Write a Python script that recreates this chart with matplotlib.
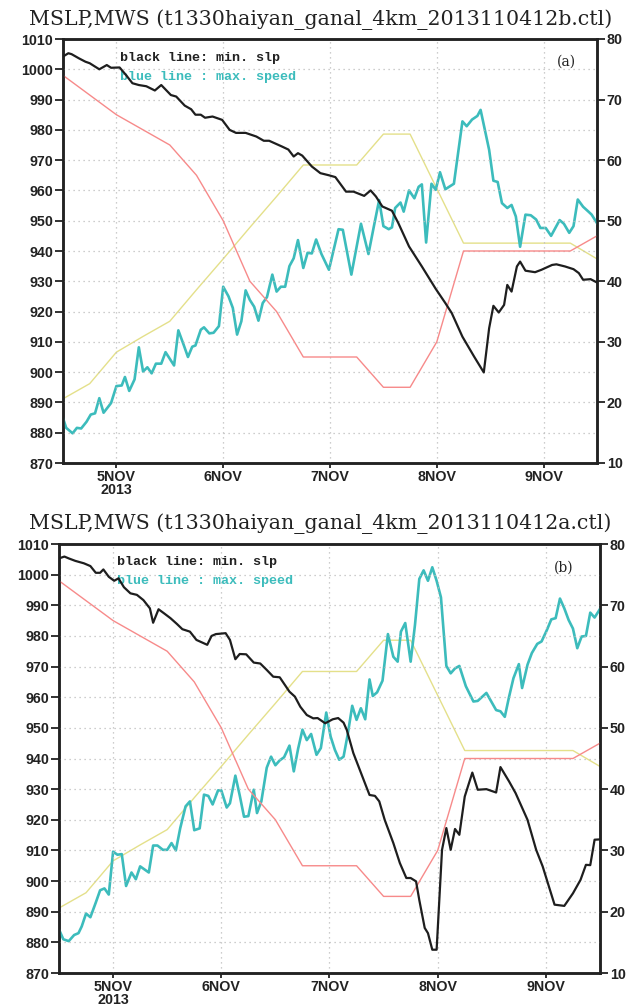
import matplotlib
matplotlib.use("Agg")
import matplotlib.pyplot as plt

# ---------------- data ----------------
# best track (same for both panels)
bt_t = [4.5, 4.75, 5.0, 5.25, 5.5, 5.75, 6.0, 6.25, 6.5, 6.75, 7.0, 7.25, 7.5, 7.75,
        8.0, 8.25, 8.5, 8.75, 9.0, 9.25, 9.5]
bt_slp = [998, 991.5, 985, 980, 975, 965, 950, 930, 920, 905, 905, 905, 895, 895,
          910, 940, 940, 940, 940, 940, 945]
bt_wind = [20.6, 23.1, 28.3, 30.9, 33.4, 38.6, 43.7, 48.9, 54.0, 59.2, 59.2, 59.2, 64.3, 64.3,
           55.3, 46.3, 46.3, 46.3, 46.3, 46.3, 43.7]

# panel (a) model min SLP
a_slp_t = [4.50, 4.55, 4.58, 4.65, 4.71, 4.75, 4.84, 4.91, 4.95, 5.03, 5.09, 5.15, 5.21, 5.28,
           5.36, 5.42, 5.51, 5.56, 5.64, 5.70, 5.74, 5.79, 5.83, 5.90, 5.99, 6.06, 6.12, 6.21,
           6.31, 6.38, 6.43, 6.55, 6.61, 6.66, 6.70, 6.74, 6.83, 6.91, 6.99, 7.05, 7.15, 7.22,
           7.32, 7.38, 7.43, 7.49, 7.58, 7.64, 7.74, 7.86, 7.99, 8.08, 8.14, 8.24, 8.35, 8.44,
           8.49, 8.53, 8.58, 8.63, 8.66, 8.70, 8.75, 8.78, 8.83, 8.92, 8.98, 9.08, 9.12, 9.20,
           9.28, 9.33, 9.37, 9.44, 9.50]
a_slp = [1004.2, 1005.3, 1005.0, 1003.6, 1002.5, 1002.0, 1000.0, 1001.4, 1000.5, 1000.6, 998.1,
         995.4, 994.8, 994.4, 993.0, 994.8, 991.5, 991.0, 988.0, 986.8, 985.0, 985.0, 984.0,
         984.4, 983.3, 980.0, 979.0, 979.0, 977.8, 976.4, 976.4, 974.5, 973.5, 971.2, 972.3,
         971.5, 967.9, 965.7, 965.0, 964.4, 959.6, 959.6, 958.2, 960.0, 958.0, 954.7, 953.3,
         949.2, 941.5, 934.9, 927.5, 922.8, 919.5, 911.7, 905.1, 899.9, 914.5, 921.9, 919.7,
         922.2, 928.8, 926.6, 934.9, 936.5, 933.5, 933.0, 933.8, 935.4, 935.6, 934.9, 934.0,
         932.7, 930.5, 930.7, 929.6]

# panel (a) model max wind speed
a_ws_t = [4.50, 4.53, 4.59, 4.63, 4.67, 4.72, 4.76, 4.80, 4.84, 4.88, 4.95, 5.00, 5.05, 5.08,
          5.12, 5.17, 5.21, 5.25, 5.29, 5.33, 5.37, 5.42, 5.46, 5.54, 5.58, 5.63, 5.67, 5.71,
          5.74, 5.79, 5.82, 5.87, 5.91, 5.96, 6.00, 6.05, 6.09, 6.13, 6.17, 6.21, 6.25, 6.29,
          6.33, 6.37, 6.41, 6.46, 6.50, 6.54, 6.58, 6.62, 6.66, 6.70, 6.75, 6.79, 6.83, 6.87,
          6.92, 6.99, 7.08, 7.12, 7.20, 7.29, 7.36, 7.41, 7.46, 7.50, 7.55, 7.58, 7.61, 7.66,
          7.69, 7.74, 7.79, 7.83, 7.86, 7.90, 7.95, 7.99, 8.03, 8.08, 8.16, 8.24, 8.28, 8.33,
          8.38, 8.41, 8.49, 8.53, 8.57, 8.61, 8.66, 8.70, 8.74, 8.78, 8.83, 8.88, 8.93, 8.97,
          9.02, 9.07, 9.15, 9.19, 9.24, 9.28, 9.32, 9.37, 9.42, 9.45, 9.50]
a_ws = [17.4, 15.8, 14.9, 15.8, 15.7, 16.8, 18.0, 18.2, 20.7, 18.3, 19.9, 22.7, 22.8, 24.2,
        21.9, 23.8, 29.1, 25.1, 25.8, 24.8, 26.4, 26.4, 28.3, 26.1, 31.9, 29.5, 27.5, 29.2,
        29.4, 32.0, 32.4, 31.4, 31.5, 32.6, 39.1, 37.5, 35.6, 31.2, 33.4, 38.5, 36.9, 35.8,
        33.5, 36.4, 37.4, 41.1, 38.3, 39.1, 39.1, 42.5, 43.8, 46.8, 42.2, 44.7, 44.6, 46.9,
        44.5, 41.9, 48.6, 48.5, 41.1, 49.5, 44.5, 49.0, 53.4, 49.1, 48.6, 48.9, 52.1, 53.0,
        51.5, 55.0, 53.7, 55.6, 56.0, 46.4, 56.1, 55.1, 58.0, 55.2, 56.1, 66.4, 65.6, 66.7,
        67.3, 68.3, 61.7, 56.6, 56.4, 52.9, 52.1, 52.6, 50.7, 45.7, 51.0, 50.9, 50.2, 48.8,
        48.8, 47.5, 50.1, 49.5, 48.0, 49.1, 53.5, 52.3, 51.5, 51.0, 49.6]

# panel (b) model min SLP
b_slp_t = [4.50, 4.55, 4.59, 4.65, 4.73, 4.79, 4.84, 4.88, 4.91, 4.96, 5.01, 5.05, 5.10, 5.16,
           5.22, 5.28, 5.34, 5.37, 5.42, 5.47, 5.53, 5.59, 5.64, 5.71, 5.77, 5.87, 5.91, 5.95,
           6.04, 6.08, 6.13, 6.17, 6.23, 6.30, 6.36, 6.42, 6.48, 6.54, 6.63, 6.68, 6.73, 6.79,
           6.85, 6.89, 6.96, 7.03, 7.08, 7.13, 7.16, 7.22, 7.28, 7.34, 7.37, 7.42, 7.46, 7.51,
           7.59, 7.65, 7.71, 7.75, 7.80, 7.83, 7.88, 7.91, 7.95, 7.99, 8.04, 8.08, 8.12, 8.16,
           8.20, 8.25, 8.32, 8.37, 8.45, 8.54, 8.58, 8.66, 8.72, 8.83, 8.91, 8.97, 9.08, 9.17,
           9.25, 9.32, 9.37, 9.41, 9.45, 9.50]
b_slp = [1005.3, 1005.9, 1005.3, 1004.5, 1003.7, 1002.8, 1000.6, 1000.6, 1001.7, 999.3, 998.0,
         998.8, 995.9, 993.9, 993.4, 991.7, 989.0, 984.3, 988.7, 987.4, 985.8, 983.9, 982.2,
         981.4, 978.7, 977.1, 980.0, 980.6, 980.9, 978.7, 972.4, 974.1, 974.0, 971.3, 971.0,
         968.9, 966.7, 966.5, 961.8, 960.2, 956.9, 954.2, 953.1, 953.2, 951.5, 952.8, 953.2,
         951.7, 949.3, 941.8, 936.3, 930.8, 928.1, 927.8, 926.0, 920.0, 912.4, 905.9, 901.0,
         901.0, 899.9, 893.8, 884.7, 883.0, 877.6, 877.6, 910.2, 917.3, 910.2, 917.0, 915.1,
         927.6, 935.4, 929.8, 930.0, 928.9, 937.2, 932.5, 928.7, 920.0, 910.2, 904.8, 892.3,
         891.9, 896.0, 900.4, 905.3, 905.2, 913.5, 913.6]

# panel (b) model max wind speed
b_ws_t = [4.50, 4.54, 4.59, 4.64, 4.68, 4.71, 4.75, 4.79, 4.84, 4.88, 4.92, 4.96, 5.00, 5.04,
          5.08, 5.12, 5.17, 5.21, 5.25, 5.33, 5.37, 5.41, 5.46, 5.50, 5.54, 5.58, 5.62, 5.67,
          5.71, 5.75, 5.80, 5.84, 5.88, 5.92, 5.97, 6.00, 6.05, 6.08, 6.13, 6.17, 6.21, 6.25,
          6.30, 6.33, 6.37, 6.42, 6.46, 6.50, 6.54, 6.58, 6.63, 6.67, 6.71, 6.75, 6.79, 6.83,
          6.88, 6.92, 6.97, 7.01, 7.05, 7.09, 7.13, 7.17, 7.21, 7.25, 7.29, 7.33, 7.37, 7.40,
          7.44, 7.49, 7.54, 7.59, 7.63, 7.66, 7.70, 7.75, 7.79, 7.83, 7.87, 7.91, 7.95, 7.99,
          8.03, 8.08, 8.12, 8.16, 8.20, 8.26, 8.33, 8.37, 8.45, 8.54, 8.58, 8.62, 8.66, 8.70,
          8.75, 8.78, 8.83, 8.87, 8.92, 8.96, 9.01, 9.05, 9.09, 9.13, 9.17, 9.21, 9.25, 9.29,
          9.33, 9.37, 9.41, 9.45, 9.50]
b_ws = [17.1, 15.5, 15.2, 16.2, 16.5, 17.6, 19.7, 19.1, 21.5, 23.5, 23.8, 22.8, 29.8, 29.3,
        29.4, 24.2, 26.4, 25.3, 27.4, 26.4, 30.8, 30.8, 30.1, 30.1, 31.2, 30.0, 33.6, 37.2,
        38.0, 33.3, 33.6, 39.1, 38.9, 37.5, 39.8, 39.8, 37.0, 37.7, 42.2, 39.0, 35.5, 35.6,
        39.9, 36.1, 38.0, 43.5, 45.3, 43.9, 44.7, 45.2, 47.1, 42.9, 46.6, 49.7, 48.0, 49.0,
        45.6, 46.7, 52.5, 48.6, 46.4, 44.8, 45.3, 49.1, 53.6, 51.3, 53.2, 51.4, 57.9, 55.2,
        55.8, 57.7, 65.3, 61.6, 60.8, 65.7, 67.1, 60.8, 66.8, 74.3, 75.7, 74.0, 76.2, 74.0,
        71.3, 60.1, 58.9, 59.7, 60.1, 56.8, 54.3, 54.4, 55.7, 52.9, 52.7, 51.8, 55.1, 58.1,
        60.4, 56.5, 60.3, 62.2, 63.7, 64.1, 66.0, 67.7, 67.9, 71.1, 69.5, 67.6, 66.2, 63.0,
        64.9, 65.0, 68.8, 68.0, 69.4]

x_ticks = [5, 6, 7, 8, 9]
x_labels = ["5NOV\n2013", "6NOV", "7NOV", "8NOV", "9NOV"]
slp_ticks = list(range(870, 1011, 10))
ws_ticks = list(range(10, 81, 10))

titles = ["MSLP,MWS (t1330haiyan_ganal_4km_2013110412b.ctl)",
          "MSLP,MWS (t1330haiyan_ganal_4km_2013110412a.ctl)"]
tags = ["(a)", "(b)"]
legend_black = "black line: min. slp"
legend_blue = "blue line : max. speed"

# ---------------- styling ----------------
W, H = 641, 1007
fig = plt.figure(figsize=(W / 100, H / 100), dpi=100)
fig.patch.set_facecolor("white")

BLACK = "#1e1e1e"
CYAN = "#3cbcbc"
RED = "#f78a8a"
YELLOW = "#e4e08a"
GRID = "#bdbdbd"
tickfont = dict(family="Liberation Sans", weight="bold", size=10.3)

panels = [
    dict(rect=(63, 39, 597, 463), slp=(a_slp_t, a_slp), ws=(a_ws_t, a_ws), title_y=20,
         leg=(0.107, 0.955, 0.910), tag=(0.942, 0.946)),
    dict(rect=(59, 544, 600, 973), slp=(b_slp_t, b_slp), ws=(b_ws_t, b_ws), title_y=524,
         leg=(0.107, 0.958, 0.914), tag=(0.933, 0.944)),
]

for i, p in enumerate(panels):
    x0, y0, x1, y1 = p["rect"]
    ax = fig.add_axes([x0 / W, 1 - y1 / H, (x1 - x0) / W, (y1 - y0) / H])
    ax2 = ax.twinx()

    ax.set_xlim(4.5, 9.5)
    ax.set_ylim(870, 1010)
    ax2.set_ylim(10, 80)

    # grid
    for yv in slp_ticks[1:-1]:
        ax.axhline(yv, color=GRID, lw=0.9, ls=(0, (1, 3)), zorder=0)
    for xv in x_ticks:
        ax.axvline(xv, color=GRID, lw=0.9, ls=(0, (1, 3)), zorder=0)

    # best track
    ax.plot(bt_t, bt_slp, color=RED, lw=1.0, zorder=2)
    ax2.plot(bt_t, bt_wind, color=YELLOW, lw=1.0, zorder=2)
    # model
    ax2.plot(p["ws"][0], p["ws"][1], color=CYAN, lw=1.9, zorder=3)
    ax.plot(p["slp"][0], p["slp"][1], color=BLACK, lw=1.6, zorder=4)
    ax.set_zorder(ax2.get_zorder() + 1)
    ax.patch.set_visible(False)

    ax.set_xticks(x_ticks)
    ax.set_xticklabels(x_labels, **tickfont, linespacing=0.92)
    ax.set_yticks(slp_ticks)
    ax.set_yticklabels([str(v) for v in slp_ticks], **tickfont)
    ax2.set_yticks(ws_ticks)
    ax2.set_yticklabels([str(v) for v in ws_ticks], **tickfont)

    ax.tick_params(axis="both", direction="out", length=5.5, width=1.3, pad=1.5, colors="#222222")
    ax.tick_params(axis="x", length=3.5, pad=1.5)
    ax2.tick_params(axis="y", direction="out", length=5.5, width=1.3, pad=1.5, colors="#222222")
    for a in (ax, ax2):
        for s in a.spines.values():
            s.set_linewidth(1.8)
            s.set_color("#222222")

    fig.text(0.4995, 1 - p["title_y"] / H, titles[i], ha="center", va="center",
             family="DejaVu Serif", fontsize=14.8, color="#222222")
    lx, ly1, ly2 = p["leg"]
    ax.text(lx, ly1, legend_black, transform=ax.transAxes, ha="left", va="center",
            family="Liberation Mono", fontsize=9.6, color="#222222", weight="bold")
    ax.text(lx, ly2, legend_blue, transform=ax.transAxes, ha="left", va="center",
            family="Liberation Mono", fontsize=9.6, color=CYAN, weight="bold")
    ax.text(p["tag"][0], p["tag"][1], tags[i], transform=ax.transAxes, ha="center",
            va="center", family="DejaVu Serif", fontsize=10, color="#222222")

fig.savefig("out.png", dpi=100, facecolor="white")
